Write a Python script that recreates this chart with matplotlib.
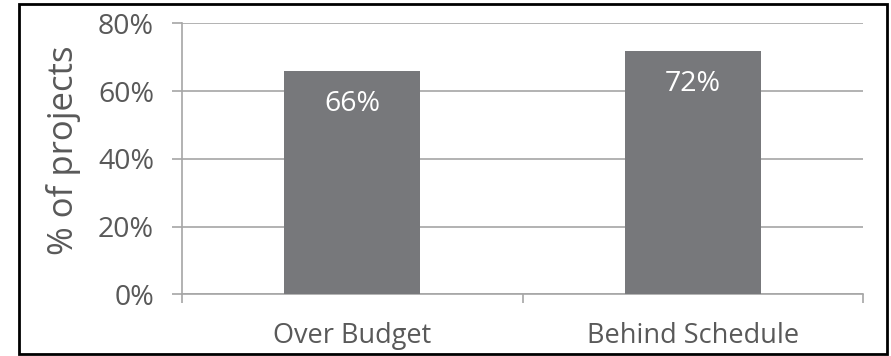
import matplotlib
matplotlib.use("Agg")
import matplotlib.pyplot as plt
from matplotlib.patches import Rectangle

categories = ["Over Budget", "Behind Schedule"]
values = [66, 72]
y_ticks = [0, 20, 40, 60, 80]
y_tick_labels = ["0%", "20%", "40%", "60%", "80%"]

plt.rcParams["font.family"] = ["Open Sans", "DejaVu Sans"]

fig = plt.figure(figsize=(8.91, 3.56), dpi=100)
ax = fig.add_axes([0.2043, 0.1733, 0.7643, 0.7607])

grid_col = "#a6a6a6"
text_col = "#595959"
bar_col = "#77787b"
tick_size = 20.5
cat_size = 19.5

x = range(len(categories))
bars = ax.bar(x, values, width=0.4, color=bar_col, zorder=3)

ax.set_xlim(-0.5, len(categories) - 0.5)
ax.set_ylim(0, 80)
ax.set_yticks(y_ticks)
ax.set_yticklabels(y_tick_labels)
ax.yaxis.grid(True, color=grid_col, linewidth=1.2, zorder=0)

# category boundaries carry the x tick marks; labels sit centred under bars
ax.set_xticks([-0.5, 0.5, 1.5])
ax.set_xticklabels([])
ax.set_xticks(list(x), minor=True)
ax.set_xticklabels(categories, minor=True)
ax.tick_params(axis="x", which="major", length=6.5, width=1.2, color=grid_col, direction="out")
ax.tick_params(axis="x", which="minor", length=0, pad=20, labelsize=cat_size, labelcolor=text_col)
ax.tick_params(axis="y", length=7.2, width=1.2, color=grid_col, pad=13, labelsize=tick_size, labelcolor=text_col)

for side in ["top", "right"]:
    ax.spines[side].set_visible(False)
for side in ["left", "bottom"]:
    ax.spines[side].set_color(grid_col)
    ax.spines[side].set_linewidth(1.2)

ax.set_ylabel("% of projects", fontsize=25, color=text_col)
ax.yaxis.set_label_coords(-0.148, 0.533)

for rect, v in zip(bars, values):
    ax.annotate(f"{v}%", (rect.get_x() + rect.get_width() / 2, v),
                xytext=(0, -24), textcoords="offset points",
                ha="center", va="center", color="white", fontsize=tick_size, zorder=4)

fig.patches.append(Rectangle((19 / 891, 2 / 356), 868 / 891, 350 / 356,
                             transform=fig.transFigure, fill=False,
                             edgecolor="black", linewidth=2))

fig.savefig("out.png", dpi=100)
